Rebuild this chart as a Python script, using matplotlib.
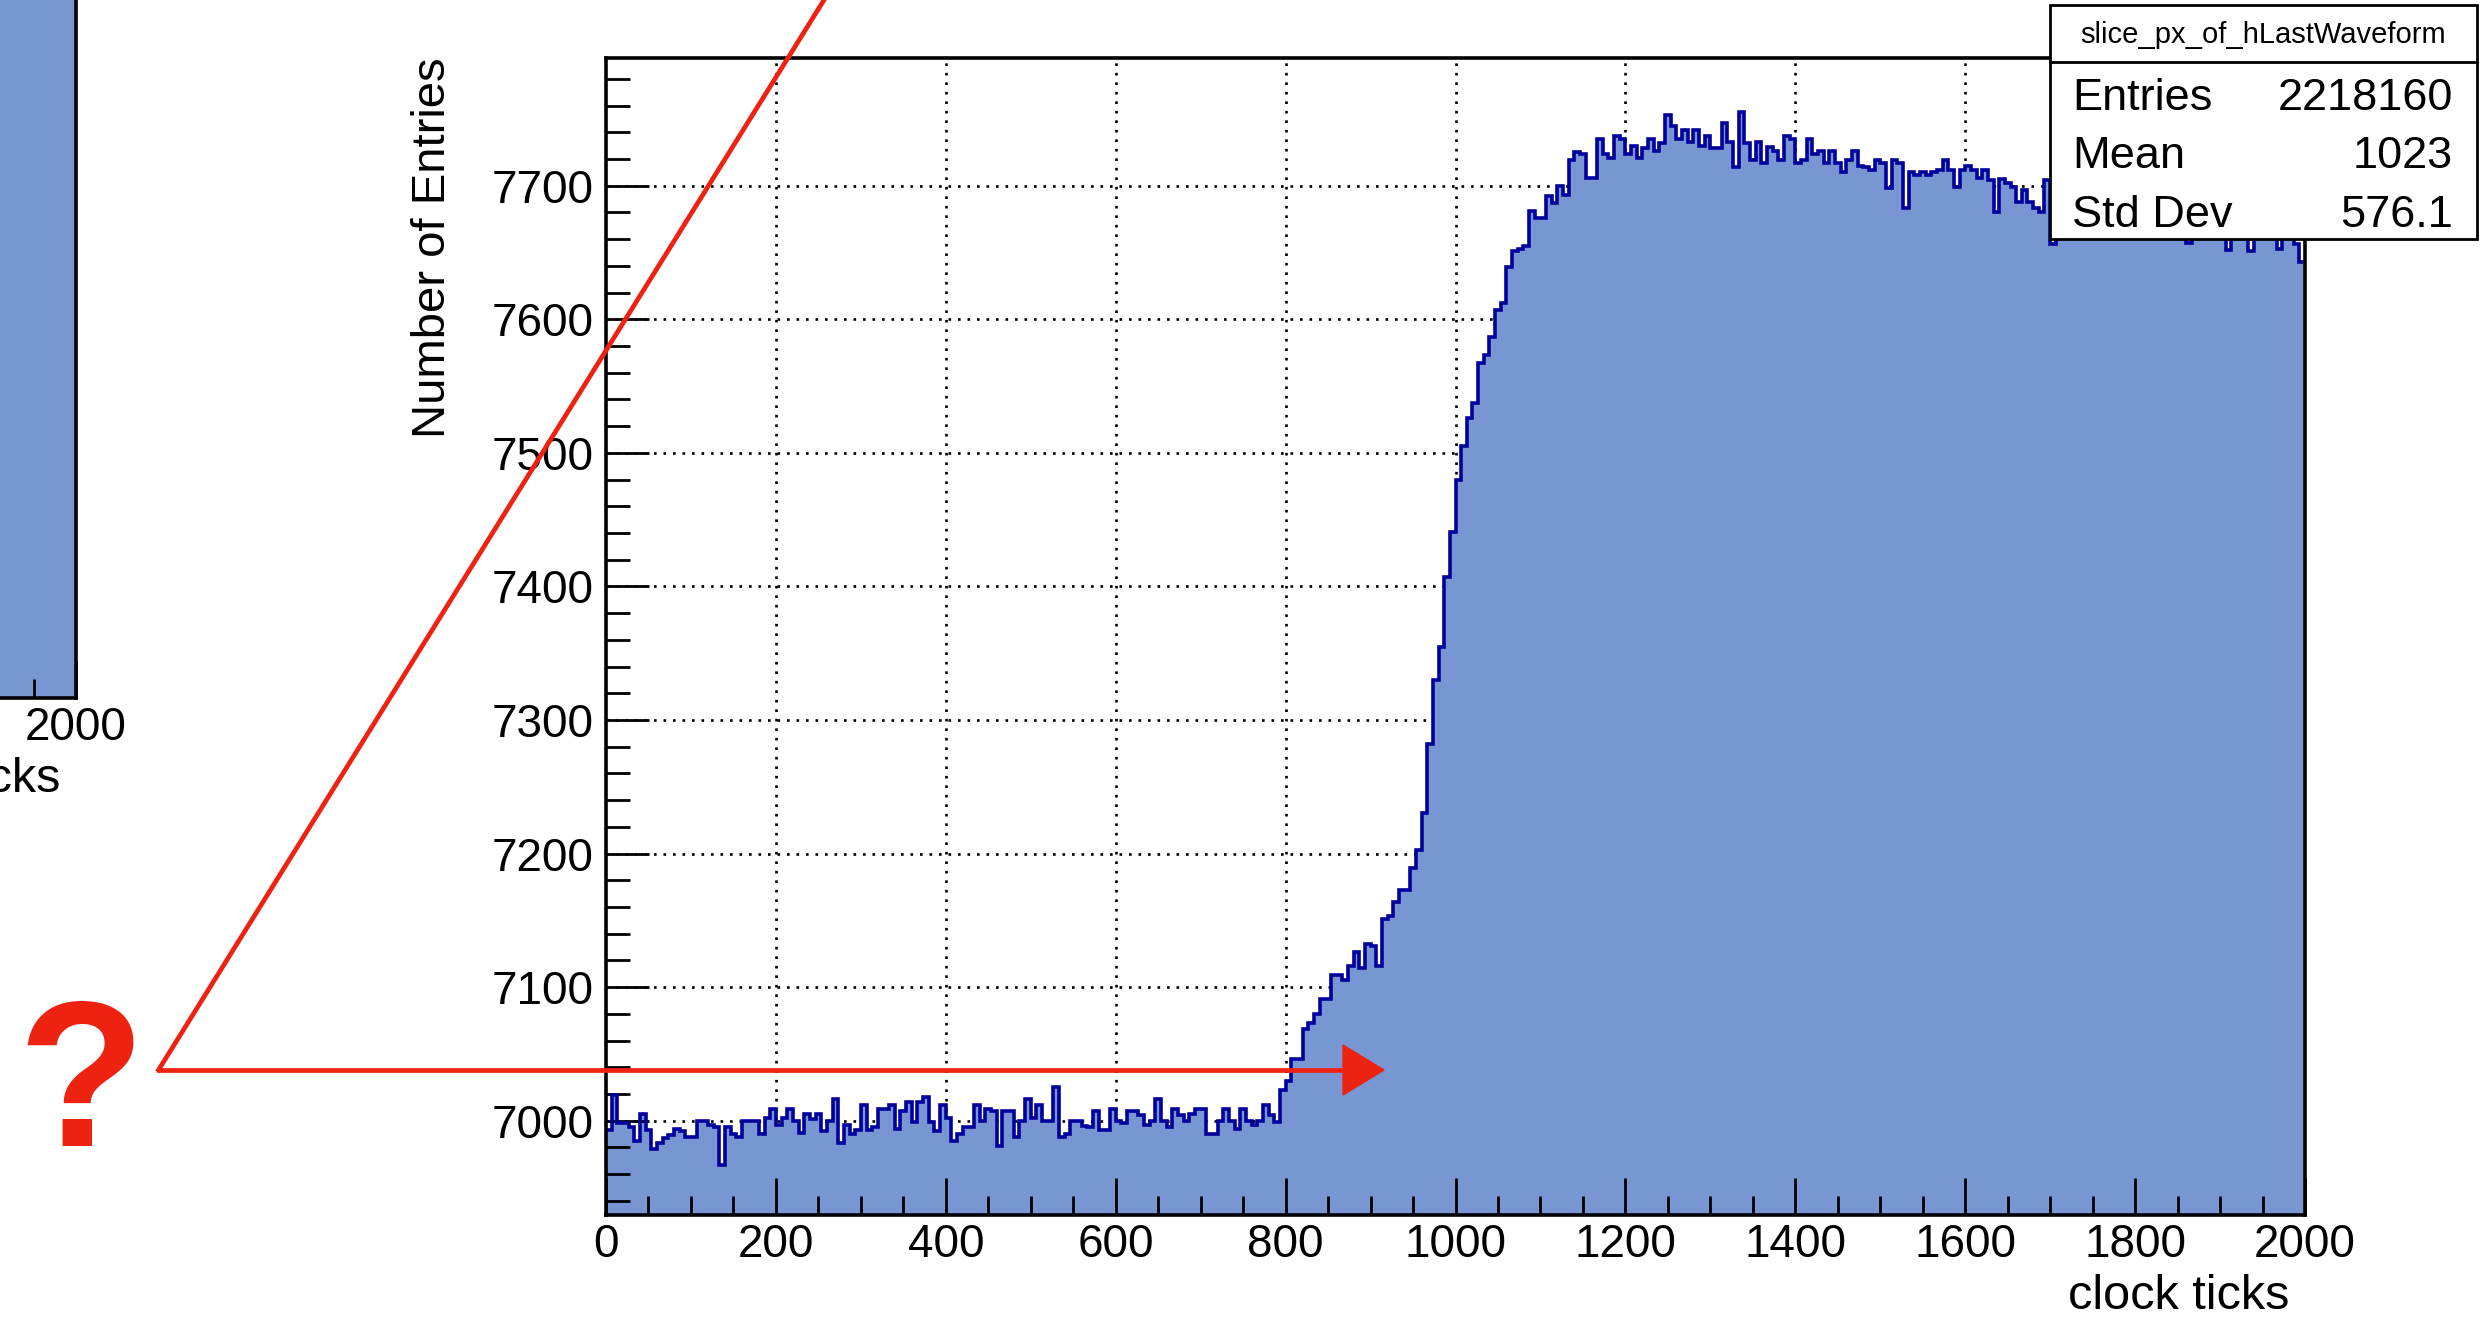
import matplotlib
matplotlib.use('Agg')
import matplotlib.pyplot as plt
import numpy as np
from matplotlib.ticker import MultipleLocator
from matplotlib.lines import Line2D
from matplotlib.patches import Rectangle, Polygon

plt.rcParams['font.family'] = ['Liberation Sans', 'DejaVu Sans']

# bin contents of slice_px_of_hLastWaveform (300 bins, 0..2000 clock ticks)
counts = [
    6993, 7019, 6998, 6998, 6995, 6985, 7005, 6993, 6979, 6983,
    6987, 6989, 6994, 6992, 6988, 6988, 7000, 7000, 6997, 6995,
    6967, 6995, 6990, 6988, 7000, 7000, 7000, 6990, 7002, 7009,
    6997, 7002, 7009, 7000, 6991, 7005, 7001, 7005, 6992, 7000,
    7016, 6983, 6997, 6990, 6993, 7012, 6993, 6995, 7009, 7009,
    7012, 6994, 7007, 7014, 6999, 7014, 7018, 6999, 6992, 7012,
    7002, 6985, 6990, 6995, 6995, 7012, 7000, 7009, 7007, 6981,
    7007, 7007, 6988, 7000, 7016, 7002, 7012, 7000, 7000, 7025,
    6988, 6990, 7000, 7000, 6996, 6995, 7007, 6993, 6993, 7009,
    7000, 6998, 7007, 7007, 7004, 6997, 7000, 7016, 7000, 6995,
    7009, 7004, 7000, 7005, 7009, 7009, 6990, 6990, 7000, 7009,
    7000, 6994, 7009, 7000, 6997, 7000, 7012, 7004, 6999, 7023,
    7030, 7046, 7046, 7069, 7073, 7080, 7091, 7091, 7109, 7109,
    7105, 7116, 7126, 7114, 7132, 7131, 7116, 7151, 7153, 7164,
    7173, 7173, 7189, 7203, 7230, 7282, 7330, 7355, 7407, 7441,
    7480, 7505, 7526, 7537, 7567, 7573, 7587, 7607, 7612, 7639,
    7651, 7653, 7655, 7681, 7676, 7676, 7692, 7687, 7700, 7693,
    7719, 7725, 7724, 7706, 7706, 7735, 7724, 7721, 7737, 7735,
    7724, 7730, 7721, 7728, 7735, 7726, 7732, 7753, 7745, 7735,
    7742, 7733, 7742, 7730, 7737, 7728, 7728, 7747, 7733, 7714,
    7755, 7732, 7719, 7733, 7717, 7729, 7726, 7719, 7737, 7735,
    7717, 7719, 7735, 7724, 7726, 7717, 7726, 7717, 7710, 7719,
    7726, 7715, 7714, 7712, 7719, 7717, 7698, 7719, 7717, 7683,
    7710, 7708, 7710, 7708, 7710, 7712, 7719, 7712, 7699, 7712,
    7715, 7712, 7706, 7712, 7704, 7680, 7705, 7702, 7699, 7688,
    7697, 7688, 7683, 7680, 7704, 7656, 7690, 7684, 7695, 7678,
    7688, 7700, 7682, 7690, 7675, 7693, 7686, 7680, 7697, 7684,
    7672, 7688, 7691, 7679, 7686, 7694, 7677, 7684, 7690, 7657,
    7681, 7688, 7676, 7684, 7691, 7679, 7652, 7680, 7686, 7671,
    7651, 7683, 7677, 7687, 7674, 7653, 7682, 7670, 7656, 7643,
]
x_range = (0, 2000)
y_range = (6929.4, 7796)
x_ticks = [0, 200, 400, 600, 800, 1000, 1200, 1400, 1600, 1800, 2000]
y_ticks = [7000, 7100, 7200, 7300, 7400, 7500, 7600, 7700]

stats_title = 'slice_px_of_hLastWaveform'
stats_names = ['Entries', 'Mean', 'Std Dev']
stats_values = ['2218160', '1023', '576.1']

fill_color = '#7896d2'
line_color = '#00009c'
red = '#ee2211'

W, H = 2489, 1322
fig = plt.figure(figsize=(W / 100, H / 100), dpi=100)


def fx(px):
    return px / W


def fy(py):
    return 1 - py / H


def hist_axes(rect):
    ax = fig.add_axes(rect)
    edges = np.linspace(x_range[0], x_range[1], len(counts) + 1)
    ax.stairs(counts, edges, fill=True, color=fill_color, zorder=1)
    ax.stairs(counts, edges, baseline=None, color=line_color, lw=2.6, zorder=2)
    ax.set_xlim(x_range)
    ax.set_ylim(y_range)
    ax.set_xticks(x_ticks)
    ax.set_yticks(y_ticks)
    ax.xaxis.set_minor_locator(MultipleLocator(50))
    ax.yaxis.set_minor_locator(MultipleLocator(20))
    ax.tick_params(which='both', direction='in', top=False, right=False,
                   width=2.0, color='black')
    ax.tick_params(axis='x', which='major', length=27, pad=6, labelsize=33)
    ax.tick_params(axis='x', which='minor', length=14)
    ax.tick_params(axis='y', which='major', length=31, pad=9, labelsize=33)
    ax.tick_params(axis='y', which='minor', length=17)
    for s in ax.spines.values():
        s.set_linewidth(2.6)
    ax.set_xlabel('clock ticks', fontsize=35, loc='right')
    ax.xaxis.set_label_coords(0.9906, -0.051)
    return ax


# cut-off plot at the left edge (only its right end is on the page)
left_ax = hist_axes([fx(76) - fx(1699), fy(698), fx(1699), fy(57.5) - fy(1215)])
left_ax.set_xticklabels([''] * (len(x_ticks) - 1) + [str(x_ticks[-1])])
left_ax.set_yticklabels([])

ax = hist_axes([fx(606), fy(1215), fx(1699), fy(57.5) - fy(1215)])
ax.set_ylabel('Number of Entries', fontsize=34, loc='top')
ax.yaxis.set_label_coords(-0.089, 1.0)

# dotted grid under the histogram
for xv in x_ticks[1:-1]:
    ax.axvline(xv, color='black', lw=1.9, ls=(0, (1, 2.6)), zorder=0.5)
for yv in y_ticks:
    ax.axhline(yv, color='black', lw=1.9, ls=(0, (1, 2.6)), zorder=0.5)

# stats box
fig.add_artist(Rectangle((fx(2050), fy(239)), fx(427), fy(5) - fy(239),
                         transform=fig.transFigure, facecolor='white',
                         edgecolor='black', lw=2.0, zorder=5))
fig.add_artist(Line2D([fx(2050), fx(2477)], [fy(62), fy(62)],
                      transform=fig.transFigure, color='black', lw=2.0, zorder=6))
fig.text(fx(2263), fy(43), stats_title, fontsize=21, ha='center', va='baseline', zorder=7)
for i, (name, val) in enumerate(zip(stats_names, stats_values)):
    yb = fy([110, 168, 227][i])
    fig.text(fx(2072), yb, name, fontsize=32.5, ha='left', va='baseline', zorder=7)
    fig.text(fx(2453), yb, val, fontsize=32.5, ha='right', va='baseline', zorder=7)

# red hand-drawn annotation
fig.add_artist(Line2D([fx(158.5), fx(824)], [fy(1070), fy(0)],
                      transform=fig.transFigure, color=red, lw=3.4, zorder=8))
fig.add_artist(Line2D([fx(158.5), fx(1350)], [fy(1070), fy(1070)],
                      transform=fig.transFigure, color=red, lw=3.4, zorder=8))
fig.add_artist(Polygon([(fx(1343), fy(1045)), (fx(1384), fy(1070)), (fx(1343), fy(1095))],
                       closed=True, transform=fig.transFigure, color=red, zorder=8))
fig.text(fx(81), fy(1146), '?', fontsize=150, fontweight='bold', color=red,
         ha='center', va='baseline', zorder=8)

fig.savefig('out.png', dpi=100)
